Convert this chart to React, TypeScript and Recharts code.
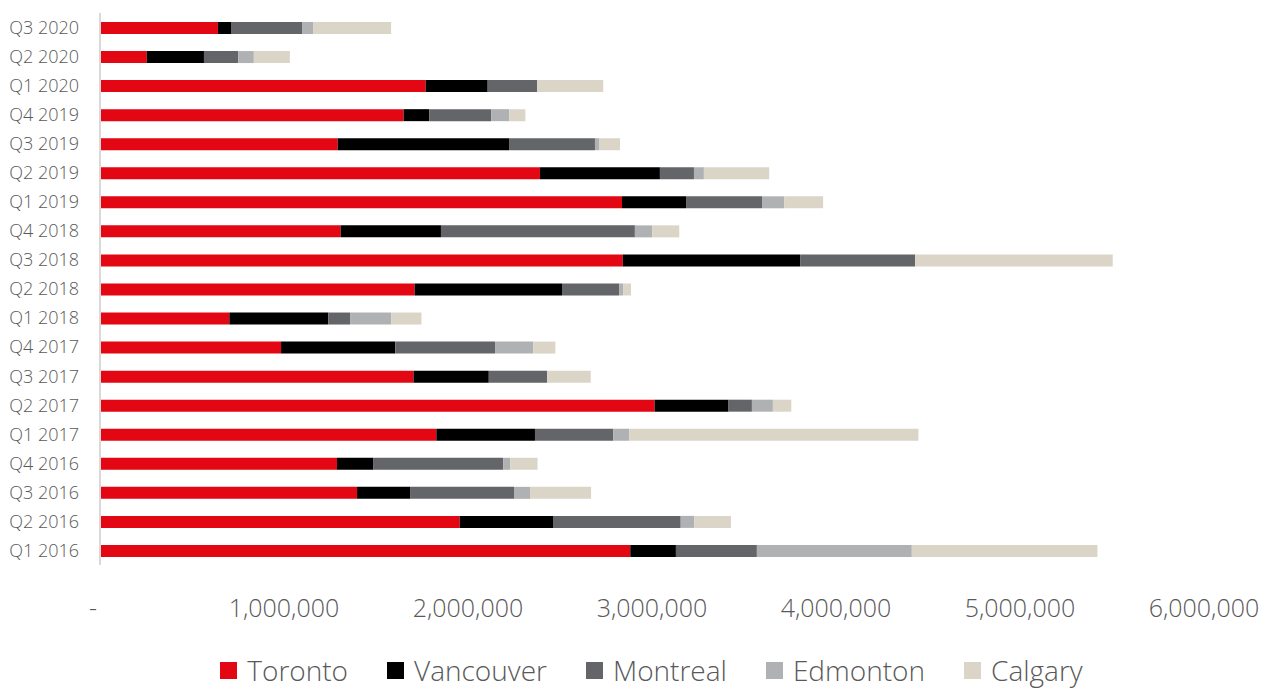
import { BarChart, Bar, XAxis, YAxis, Legend } from 'recharts';

const quarters = [
  'Q1 2016', 'Q2 2016', 'Q3 2016', 'Q4 2016',
  'Q1 2017', 'Q2 2017', 'Q3 2017', 'Q4 2017',
  'Q1 2018', 'Q2 2018', 'Q3 2018', 'Q4 2018',
  'Q1 2019', 'Q2 2019', 'Q3 2019', 'Q4 2019',
  'Q1 2020', 'Q2 2020', 'Q3 2020',
];

const toronto = [2882000, 1955000, 1397000, 1288000, 1828000, 3014000, 1704000, 984000, 703000, 1710000, 2841000, 1308000, 2837000, 2391000, 1292000, 1650000, 1770000, 254000, 641000];
const vancouver = [248000, 507000, 288000, 196000, 536000, 402000, 409000, 621000, 538000, 801000, 964000, 545000, 348000, 652000, 931000, 140000, 337000, 311000, 71000];
const montreal = [440000, 694000, 565000, 707000, 426000, 127000, 317000, 542000, 118000, 310000, 625000, 1054000, 413000, 185000, 467000, 337000, 268000, 186000, 386000];
const edmonton = [842000, 74000, 87000, 38000, 87000, 114000, 0, 208000, 223000, 22000, 0, 94000, 120000, 54000, 22000, 98000, 0, 85000, 60000];
const calgary = [1009000, 199000, 332000, 149000, 1571000, 100000, 237000, 120000, 165000, 43000, 1074000, 147000, 212000, 355000, 114000, 87000, 360000, 196000, 424000];

const xTicks = [0, 1000000, 2000000, 3000000, 4000000, 5000000, 6000000];

const series = [
  { key: 'Toronto', color: '#E30613' },
  { key: 'Vancouver', color: '#000000' },
  { key: 'Montreal', color: '#636569' },
  { key: 'Edmonton', color: '#B0B1B3' },
  { key: 'Calgary', color: '#DBD5C8' },
];

const font = '"Open Sans", sans-serif';
const textColor = '#595959';

const data = quarters.map((q, i) => ({
  name: q,
  Toronto: toronto[i],
  Vancouver: vancouver[i],
  Montreal: montreal[i],
  Edmonton: edmonton[i],
  Calgary: calgary[i],
}));

const fmt = (v: number) => (v === 0 ? '-' : v.toLocaleString('en-US'));

// x tick: the zero dash sits a little left of the axis, like Excel's accounting format
function XTick(props: any) {
  const { x, y, payload } = props;
  const shift = payload.value === 0 ? -7 : 0;
  return (
    <text
      x={x + shift}
      y={y}
      dy="0.71em"
      textAnchor="middle"
      fill={textColor}
      fontSize={25}
      fontFamily={font}
      fontWeight={300}
    >
      {fmt(payload.value)}
    </text>
  );
}

function LegendRow() {
  return (
    <div
      style={{
        display: 'flex',
        justifyContent: 'center',
        alignItems: 'center',
        height: 36,
        paddingLeft: 36,
        fontFamily: font,
        fontWeight: 300,
        fontSize: 28,
        color: textColor,
      }}
    >
      {series.map((s, i) => (
        <span
          key={s.key}
          style={{ display: 'flex', alignItems: 'center', marginRight: i === series.length - 1 ? 0 : 39 }}
        >
          <span style={{ width: 17, height: 17, background: s.color, marginRight: 10, display: 'inline-block' }} />
          {s.key}
        </span>
      ))}
    </div>
  );
}

export default function App() {
  return (
    <div style={{ position: 'absolute', left: 0, top: 0, background: '#fff' }}>
      <BarChart
        width={1267}
        height={688}
        data={data}
        layout="vertical"
        margin={{ top: 13, right: 63, left: 0, bottom: 0 }}
      >
        <XAxis
          type="number"
          domain={[0, 6000000]}
          ticks={xTicks}
          axisLine={false}
          tickLine={false}
          tickSize={0}
          tickMargin={34}
          height={87}
          interval={0}
          tick={<XTick />}
        />
        <YAxis
          type="category"
          dataKey="name"
          reversed
          width={100}
          axisLine={{ stroke: '#D9D9D9', strokeWidth: 2 }}
          tickLine={false}
          tickSize={0}
          tickMargin={21}
          interval={0}
          tick={{ fill: textColor, fontSize: 18, fontFamily: font, fontWeight: 300 }}
        />
        <Legend
          verticalAlign="bottom"
          content={<LegendRow />}
          wrapperStyle={{ left: 0, width: 1267, bottom: 0 }}
        />
        {series.map((s) => (
          <Bar
            key={s.key}
            dataKey={s.key}
            stackId="a"
            fill={s.color}
            barSize={12}
            isAnimationActive={false}
          />
        ))}
      </BarChart>
    </div>
  );
}
